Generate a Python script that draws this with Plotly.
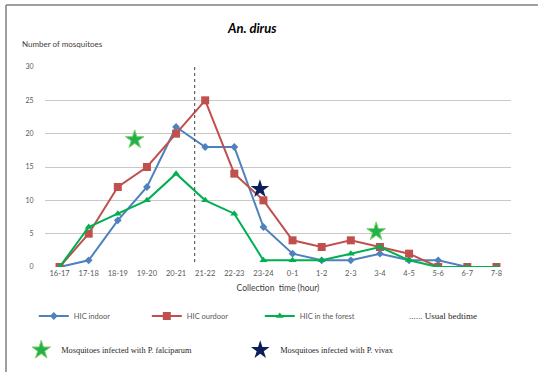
import plotly.graph_objects as go

hours = ["16-17", "17-18", "18-19", "19-20", "20-21", "21-22", "22-23", "23-24",
         "0-1", "1-2", "2-3", "3-4", "4-5", "5-6", "6-7", "7-8"]
hic_indoor = [0, 1, 7, 12, 21, 18, 18, 6, 2, 1, 1, 2, 1, 1, 0, 0]
hic_outdoor = [0, 5, 12, 15, 20, 25, 14, 10, 4, 3, 4, 3, 2, 0, 0, 0]
hic_forest = [0, 6, 8, 10, 14, 10, 8, 1, 1, 1, 2, 3, 1, 0, 0, 0]
falciparum_x = [2.58, 10.87]
falciparum_y = [19.1, 5.3]
vivax_x = [6.88]
vivax_y = [11.7]
bedtime_x = 4.64
y_ticks = [0, 5, 10, 15, 20, 25, 30]

idx = list(range(len(hours)))
SANS = "Lato, 'Open Sans', sans-serif"
SERIF = "'Liberation Serif', 'DejaVu Serif', serif"

fig = go.Figure()
fig.add_trace(go.Scatter(x=idx, y=hic_indoor, name="HIC indoor", mode="lines+markers",
                         line=dict(color="#4f81bd", width=2),
                         marker=dict(symbol="diamond", size=6, color="#4f81bd"), legend="legend"))
fig.add_trace(go.Scatter(x=idx, y=hic_outdoor, name="HIC ourdoor", mode="lines+markers",
                         line=dict(color="#c0504d", width=2),
                         marker=dict(symbol="square", size=8, color="#c0504d"), legend="legend"))
fig.add_trace(go.Scatter(x=idx, y=hic_forest, name="HIC in the forest", mode="lines+markers",
                         line=dict(color="#00b050", width=2),
                         marker=dict(symbol="triangle-up", size=7, color="#00b050"), legend="legend"))
fig.add_trace(go.Scatter(x=falciparum_x, y=falciparum_y, name="Mosquitoes infected with P. falciparum",
                         mode="markers",
                         marker=dict(symbol="star", size=14, color="#22b14c",
                                     line=dict(color="#7fd36a", width=1)), legend="legend2"))
fig.add_trace(go.Scatter(x=vivax_x, y=vivax_y, name="Mosquitoes infected with P. vivax",
                         mode="markers",
                         marker=dict(symbol="star", size=14, color="#0b1f5c"), legend="legend2"))

fig.add_shape(type="line", xref="x", yref="y", x0=bedtime_x, x1=bedtime_x, y0=0.75, y1=30.7,
              line=dict(color="#404040", width=1, dash="dot"))
# frame
fig.add_shape(type="line", xref="paper", yref="paper", x0=-0.0837, x1=-0.0837, y0=1.31, y1=-0.55,
              line=dict(color="#7f7f7f", width=1.5))
fig.add_shape(type="line", xref="paper", yref="paper", x0=-0.0837, x1=1.06, y0=1.31, y1=1.31,
              line=dict(color="#7f7f7f", width=1.5))

fig.add_annotation(text="Number of mosquitoes", xref="paper", yref="paper", x=(20 - 45) / 466,
                   y=(267 - 44) / 200, xanchor="left", yanchor="middle", showarrow=False,
                   font=dict(family=SANS, size=8, color="#404040"))
fig.add_annotation(text="<b><i>An. dirus</i></b>", xref="paper", yref="paper", x=(252 - 45) / 466,
                   y=(267 - 28) / 200, xanchor="center", yanchor="middle", showarrow=False,
                   font=dict(family=SANS, size=13, color="#000000"))
fig.add_annotation(text="...... Usual bedtime", xref="paper", yref="paper", x=(407 - 45) / 466,
                   y=(267 - 316) / 200, xanchor="left", yanchor="middle", showarrow=False,
                   font=dict(family=SERIF, size=9, color="#262626"))

fig.update_layout(
    width=538, height=372,
    margin=dict(l=45, r=27, t=67, b=105, autoexpand=False),
    paper_bgcolor="white", plot_bgcolor="white",
    font=dict(family=SANS, color="#595959"),
    xaxis=dict(range=[-0.5, 15.5], tickmode="array", tickvals=idx, ticktext=hours,
               showgrid=False, zeroline=False, showline=False, automargin=False,
               tickfont=dict(size=7.5, color="#595959"), ticks="",
               title=dict(text="Collection  time (hour)", font=dict(size=8.5, color="#404040"), standoff=8)),
    yaxis=dict(range=[0, 30], tickmode="array", tickvals=y_ticks, showgrid=True,
               gridcolor="#c8c8c8", gridwidth=1, zeroline=False, showline=False, automargin=False,
               tickfont=dict(size=7, color="#595959"), ticks="outside", ticklen=9,
               tickcolor="rgba(0,0,0,0)"),
    legend=dict(orientation="h", x=-0.024, y=-0.245, xanchor="left", yanchor="middle",
                font=dict(family=SANS, size=7.5, color="#595959"), entrywidth=68,
                entrywidthmode="pixels", itemwidth=30, bgcolor="rgba(0,0,0,0)"),
    legend2=dict(orientation="h", x=-0.051, y=-0.415, xanchor="left", yanchor="middle",
                 font=dict(family=SERIF, size=8.3, color="#262626"), entrywidth=174,
                 entrywidthmode="pixels", itemwidth=30, bgcolor="rgba(0,0,0,0)"),
)

fig.write_html("out.html", config={"displayModeBar": False},
               post_script="document.body.style.margin='0px';")
